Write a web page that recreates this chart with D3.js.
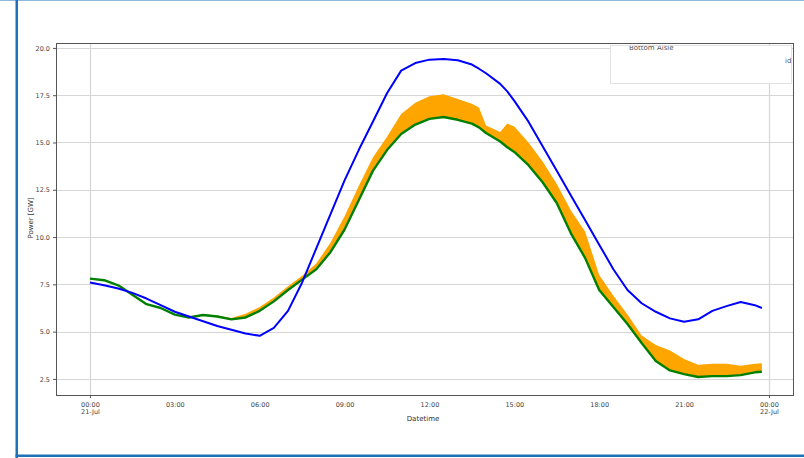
<!DOCTYPE html>
<html>
<head>
<meta charset="utf-8">
<script src="https://cdn.jsdelivr.net/npm/d3@7"></script>
<style>
  body { margin: 0; background: #fff; }
  text { font-family: "DejaVu Sans", sans-serif; }
</style>
</head>
<body>
<svg width="804" height="458"></svg>
<script>
// hours after 21-Jul 00:00
var hours = [0, 0.5, 1, 1.5, 2, 2.5, 3, 3.5, 4, 4.5, 5, 5.5, 6, 6.5, 7, 7.5, 8, 8.5, 9, 9.5,
  10, 10.5, 11, 11.5, 12, 12.5, 13, 13.5, 13.75, 14, 14.5, 14.75, 15, 15.5, 16, 16.5, 17, 17.5,
  18, 18.5, 19, 19.5, 20, 20.5, 21, 21.5, 22, 22.5, 23, 23.5, 23.75];

var blueLine = [7.6, 7.45, 7.28, 7.05, 6.75, 6.4, 6.05, 5.8, 5.55, 5.3, 5.1, 4.9, 4.78, 5.2, 6.1, 7.6,
  9.4, 11.2, 13.0, 14.6, 16.1, 17.6, 18.8, 19.2, 19.38, 19.42, 19.35, 19.12, 18.9, 18.66, 18.1,
  17.7, 17.2, 16.1, 14.8, 13.5, 12.2, 10.9, 9.6, 8.3, 7.2, 6.5, 6.05, 5.7, 5.52, 5.65, 6.1, 6.35,
  6.57, 6.4, 6.25];

var greenLine = [7.8, 7.72, 7.45, 6.95, 6.45, 6.25, 5.9, 5.75, 5.88, 5.8, 5.65, 5.75, 6.1, 6.6, 7.2,
  7.75, 8.3, 9.2, 10.4, 11.95, 13.5, 14.6, 15.45, 15.95, 16.25, 16.35, 16.2, 16.0, 15.8, 15.5, 15.05,
  14.75, 14.5, 13.8, 12.9, 11.8, 10.2, 8.9, 7.2, 6.3, 5.4, 4.4, 3.45, 2.95, 2.75, 2.6, 2.65, 2.65,
  2.7, 2.85, 2.88];

var upperBand = [7.8, 7.72, 7.45, 6.95, 6.45, 6.25, 5.9, 5.8, 5.92, 5.85, 5.72, 5.95, 6.3, 6.8, 7.4,
  7.95, 8.6, 9.7, 11.1, 12.7, 14.2, 15.3, 16.5, 17.1, 17.45, 17.55, 17.3, 17.05, 16.85, 15.9, 15.55,
  16.0, 15.85, 15.0, 14.0, 12.8, 11.4, 10.3, 8.0, 6.9, 5.9, 4.8, 4.3, 4.0, 3.55, 3.25, 3.3, 3.3,
  3.2, 3.3, 3.33];

var yTicks = [2.5, 5.0, 7.5, 10.0, 12.5, 15.0, 17.5, 20.0];

var svg = d3.select("svg"),
    plotL = 56, plotR = 793, plotT = 43, plotB = 395;

var t0 = new Date(2021, 6, 21, 0, 0);
var hr = function(h) { return new Date(t0.getTime() + h * 3600e3); };

var x = d3.scaleTime().domain([hr(-1.2), hr(24.85)]).range([plotL, plotR]),
    y = d3.scaleLinear().domain([1.65, 20.26]).range([plotB, plotT]);

var data = hours.map(function(h, i) {
  return {t: hr(h), blue: blueLine[i], green: greenLine[i], upper: upperBand[i]};
});

// outer frame of the screenshot
svg.append("line").attr("x1", 0).attr("x2", 804).attr("y1", 0.5).attr("y2", 0.5)
    .attr("stroke", "#8fb8da").attr("stroke-width", 1);
svg.append("rect").attr("x", 15.5).attr("y", 0).attr("width", 2.5).attr("height", 458).attr("fill", "#1f72b8");
svg.append("rect").attr("x", 15.5).attr("y", 454.5).attr("width", 789).attr("height", 2.5).attr("fill", "#1f72b8");

var g = svg.append("g");

// grid
g.selectAll(".hgrid").data(yTicks).enter().append("line")
    .attr("x1", plotL).attr("x2", plotR)
    .attr("y1", function(d) { return Math.round(y(d)) + 0.5; })
    .attr("y2", function(d) { return Math.round(y(d)) + 0.5; })
    .attr("stroke", "#d6d6d6").attr("stroke-width", 1);

var majors = [hr(0), hr(24)];
g.selectAll(".vgrid").data(majors).enter().append("line")
    .attr("x1", function(d) { return Math.round(x(d)) + 0.5; })
    .attr("x2", function(d) { return Math.round(x(d)) + 0.5; })
    .attr("y1", plotT).attr("y2", plotB)
    .attr("stroke", "#d6d6d6").attr("stroke-width", 1.2);

// orange band between green and upper
var area = d3.area()
    .x(function(d) { return x(d.t); })
    .y0(function(d) { return y(d.green); })
    .y1(function(d) { return y(d.upper); });

g.append("path").datum(data).attr("d", area).attr("fill", "#ffa500");

var lineOf = function(key) {
  return d3.line().x(function(d) { return x(d.t); }).y(function(d) { return y(d[key]); });
};

g.append("path").datum(data).attr("d", lineOf("green"))
    .attr("fill", "none").attr("stroke", "#008000").attr("stroke-width", 2.4).attr("stroke-linejoin", "round");
g.append("path").datum(data).attr("d", lineOf("blue"))
    .attr("fill", "none").attr("stroke", "#0000ff").attr("stroke-width", 2).attr("stroke-linejoin", "round");

// axes
var yAxis = g.append("g").attr("transform", "translate(" + plotL + ",0)")
    .call(d3.axisLeft(y).tickValues(yTicks).tickFormat(d3.format(".1f")).tickSize(3).tickPadding(3));

var minors = d3.range(3, 24, 3).map(hr);
var xAxisMinor = g.append("g").attr("transform", "translate(0," + plotB + ")")
    .call(d3.axisBottom(x).tickValues(minors).tickFormat(d3.timeFormat("%H:%M")).tickSize(0).tickPadding(7));
var xAxisMajor = g.append("g").attr("transform", "translate(0," + plotB + ")")
    .call(d3.axisBottom(x).tickValues(majors).tickFormat(d3.timeFormat("%H:%M")).tickSize(3).tickPadding(4));
xAxisMajor.selectAll(".tick text").append("tspan")
    .attr("x", 0).attr("dy", "1.15em")
    .text(function(d) { return d3.timeFormat("%d-%b")(d); });

[yAxis, xAxisMinor, xAxisMajor].forEach(function(a) {
  a.select(".domain").remove();
  a.selectAll(".tick line").attr("stroke", "#555");
  a.selectAll(".tick text").attr("fill", "#444").style("font-size", "6.5px");
});

// spines
g.append("rect").attr("x", plotL + 0.5).attr("y", plotT + 0.5)
    .attr("width", plotR - plotL).attr("height", plotB - plotT)
    .attr("fill", "none").attr("stroke", "#555").attr("stroke-width", 1);

// legend box (mostly cut off)
svg.append("clipPath").attr("id", "legclip").append("rect")
    .attr("x", 610).attr("y", 46).attr("width", 182).attr("height", 38);
var leg = svg.append("g");
leg.append("rect").attr("x", 610.5).attr("y", 45.5).attr("width", 181).attr("height", 38)
    .attr("fill", "#fff").attr("stroke", "#e2e2e2");
leg.append("text").attr("clip-path", "url(#legclip)")
    .attr("x", 629).attr("y", 50).style("font-size", "7px").attr("fill", "#555")
    .text("Bottom Aisle");
leg.append("text").attr("x", 785).attr("y", 63).style("font-size", "7px").attr("fill", "#555")
    .text("id");

// labels
svg.append("text").attr("x", 423).attr("y", 421).attr("text-anchor", "middle")
    .style("font-size", "7px").attr("fill", "#333").text("Datetime");
svg.append("text").attr("transform", "translate(33,218) rotate(-90)").attr("text-anchor", "middle")
    .style("font-size", "7px").attr("fill", "#333").text("Power [GW]");
</script>
</body>
</html>
